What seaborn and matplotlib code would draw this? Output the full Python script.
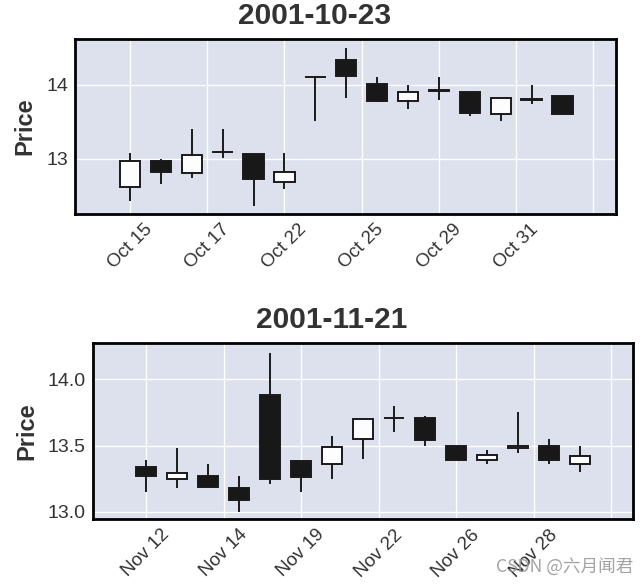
import numpy as np
import pandas as pd
import matplotlib
matplotlib.use("Agg")
import matplotlib.pyplot as plt
import seaborn as sns

# ---- data ----
top_title = "2001-10-23"
top_dates = ["Oct 15", "Oct 16", "Oct 17", "Oct 18", "Oct 19", "Oct 22", "Oct 23", "Oct 24",
             "Oct 25", "Oct 26", "Oct 29", "Oct 30", "Oct 31", "Nov 01", "Nov 02"]
top_open = [12.61, 12.97, 12.80, 13.09, 13.06, 12.68, 14.11, 14.34, 14.01, 13.78, 13.93, 13.90, 13.61, 13.81, 13.85]
top_high = [13.08, 13.00, 13.40, 13.40, 13.07, 13.08, 14.11, 14.50, 14.10, 14.00, 14.10, 13.90, 13.83, 14.00, 13.85]
top_low = [12.42, 12.65, 12.74, 13.01, 12.36, 12.59, 13.51, 13.82, 13.77, 13.67, 13.80, 13.58, 13.51, 13.74, 13.59]
top_close = [12.97, 12.82, 13.05, 13.09, 12.73, 12.82, 14.11, 14.12, 13.78, 13.90, 13.91, 13.62, 13.82, 13.79, 13.61]

bot_title = "2001-11-21"
bot_dates = ["Nov 12", "Nov 13", "Nov 14", "Nov 15", "Nov 16", "Nov 19", "Nov 20", "Nov 21",
             "Nov 22", "Nov 23", "Nov 26", "Nov 27", "Nov 28", "Nov 29", "Nov 30"]
bot_open = [13.34, 13.25, 13.27, 13.18, 13.88, 13.38, 13.36, 13.55, 13.71, 13.71, 13.50, 13.39, 13.48, 13.50, 13.36]
bot_high = [13.39, 13.48, 13.36, 13.27, 14.20, 13.39, 13.57, 13.71, 13.80, 13.72, 13.50, 13.47, 13.75, 13.55, 13.50]
bot_low = [13.15, 13.18, 13.18, 13.00, 13.21, 13.15, 13.25, 13.40, 13.60, 13.50, 13.38, 13.36, 13.44, 13.36, 13.30]
bot_close = [13.27, 13.29, 13.19, 13.09, 13.25, 13.26, 13.49, 13.70, 13.71, 13.54, 13.39, 13.43, 13.50, 13.39, 13.42]

# ---- style ----
sns.set_theme(style="darkgrid", rc={
    "axes.facecolor": "#DCE1ED",
    "grid.color": "white",
    "grid.linewidth": 1.0,
    "axes.edgecolor": "black",
    "axes.linewidth": 2.0,
})
plt.rcParams["font.family"] = ["Liberation Sans", "DejaVu Sans"]

fig = plt.figure(figsize=(6.43, 5.86), dpi=100)
ax1 = fig.add_axes([0.1166, 0.6348, 0.958 - 0.1166, 0.9334 - 0.6348])
ax2 = fig.add_axes([0.1442, 0.1138, 0.984 - 0.1442, 0.4142 - 0.1138])

TXT = "#333333"


def candles(ax, dates, o, h, l, c, title, ylim, yticks, ylabels, xlim):
    df = pd.DataFrame({"date": dates, "open": o, "high": h, "low": l, "close": c})
    df["x"] = np.arange(len(df))
    df["bottom"] = df[["open", "close"]].min(axis=1)
    df["height"] = (df["close"] - df["open"]).abs()
    df["color"] = np.where(df["close"] >= df["open"], "#FDFDFD", "#181818")
    ax.vlines(df["x"], df["low"], df["high"], color="#1a1a1a", linewidth=1.4, zorder=2)
    ax.bar(df["x"], df["height"], bottom=df["bottom"], width=0.66,
           color=df["color"], edgecolor="#1a1a1a", linewidth=1.4, zorder=3)
    ticks = np.arange(0, len(df) + 0.1, 2.5)
    labels = [dates[int(round(t))] if round(t) < len(dates) else "" for t in ticks]
    ax.set_xticks(ticks)
    ax.set_xticklabels(labels, rotation=45, ha="center", fontsize=13.5, color=TXT)
    ax.set_yticks(yticks)
    ax.set_yticklabels(ylabels, fontsize=14, color=TXT)
    ax.set_xlim(*xlim)
    ax.set_ylim(*ylim)
    ax.tick_params(length=0, pad=5)
    ax.set_ylabel("Price", fontsize=17, fontweight="bold", color=TXT, labelpad=7)
    ax.set_title(title, fontsize=21.5, fontweight="bold", color=TXT, pad=11, x=0.443)
    ax.grid(True, color="white", linewidth=1.0)
    for s in ax.spines.values():
        s.set_visible(True)
        s.set_color("black")
        s.set_linewidth(2.0)


candles(ax1, top_dates, top_open, top_high, top_low, top_close, top_title,
        (12.25, 14.62), [13, 14], ["13", "14"], (-1.78, 15.73))
candles(ax2, bot_dates, bot_open, bot_high, bot_low, bot_close, bot_title,
        (12.943, 14.272), [13.0, 13.5, 14.0], ["13.0", "13.5", "14.0"], (-1.72, 15.70))

fig.text(0.985, 0.018, "CSDN @六月闻君", ha="right", va="bottom", fontsize=12.7,
         color="#999999", alpha=0.9, family=["Noto Sans CJK SC", "DejaVu Sans"])

fig.savefig("out.png", dpi=100)
